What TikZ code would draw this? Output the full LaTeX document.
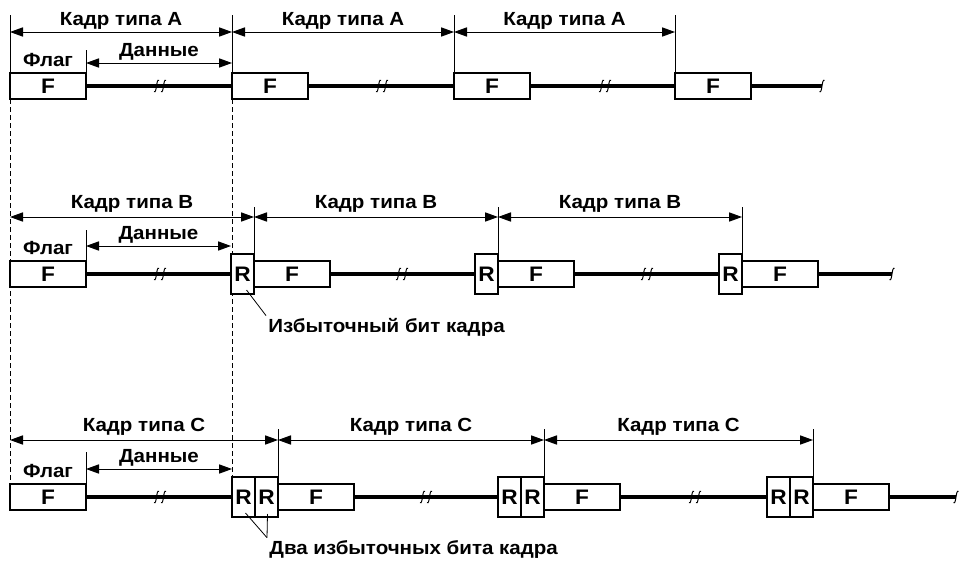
\documentclass[tikz,border=0pt]{standalone}
\usepackage{fontspec}
\setmainfont{Liberation Sans}[FakeStretch=1.08]
\usetikzlibrary{arrows.meta,positioning,backgrounds}

\tikzset{
  fbox/.style={draw,line width=1pt,fill=white,outer sep=0pt,inner sep=0pt,
    minimum width=38pt,minimum height=13pt,font=\bfseries\fontsize{10.5}{12}\selectfont},
  rbox/.style={fbox,minimum width=11.5pt,minimum height=20pt},
  wire/.style={line width=1.6pt},
  dim/.style={{Triangle[length=6.5pt,width=4.6pt]}-{Triangle[length=6.5pt,width=4.6pt]},line width=0.5pt},
  stub/.style={line width=0.4pt},
  guide/.style={line width=0.4pt,dash pattern=on 2.5pt off 1.5pt},
  lead/.style={line width=0.4pt},
  lbl/.style={font=\bfseries\fontsize{9.5}{11}\selectfont,inner sep=1pt},
  gapmark/.pic={
    \foreach \dx in {-3.5,3.5}
      \draw[line width=0.5pt,xshift=\dx*0.5pt] (2.5,-5.5) .. controls (1,-7) and (0.5,-3) .. (0,0)
        .. controls (-0.5,3) and (-1,7) .. (-2.5,5.5);
  },
  endmark/.pic={
    \draw[line width=0.5pt] (2.5,-5.5) .. controls (1,-7) and (0.5,-3) .. (0,0)
      .. controls (-0.5,3) and (-1,7) .. (-2.5,5.5);
  }
}

\begin{document}
\begin{tikzpicture}[x=0.5pt,y=-0.5pt]
\useasboundingbox (0,0) rectangle (959,562);

% frame type A
\node[fbox,anchor=west] (fa1) at (10,86) {F};
\node[fbox,anchor=west] (fa2) at (232,86) {F};
\node[fbox,anchor=west] (fa3) at (454,86) {F};
\node[fbox,anchor=west] (fa4) at (675,86) {F};
\coordinate (ea) at (822,86);
\draw[wire] (fa1) -- (fa2) (fa2) -- (fa3) (fa3) -- (fa4) (fa4) -- (ea);
\pic at (160,86) {gapmark};
\pic at (382,86) {gapmark};
\pic at (605,86) {gapmark};
\pic at (ea) {endmark};

\coordinate (ta) at (0,15);
\coordinate (ya) at (0,32);
\coordinate (tda) at (0,50);
\coordinate (yda) at (0,63);
\draw[stub] (fa1.north west |- ta) -- (fa1.north west);
\draw[stub] (fa2.north west |- ta) -- (fa2.north west);
\draw[stub] (fa3.north west |- ta) -- (fa3.north west);
\draw[stub] (fa4.north west |- ta) -- (fa4.north west);
\draw[stub] (fa1.north east |- tda) -- (fa1.north east);
\draw[dim] (fa1.north west |- ya) -- node[lbl,above] {Кадр типа A} (fa2.north west |- ya);
\draw[dim] (fa2.north west |- ya) -- node[lbl,above] {Кадр типа A} (fa3.north west |- ya);
\draw[dim] (fa3.north west |- ya) -- node[lbl,above] {Кадр типа A} (fa4.north west |- ya);
\draw[dim] (fa1.north east |- yda) -- node[lbl,above] {Данные} (fa2.north west |- yda);
\node[lbl,above=2pt of fa1] (flaga) {Флаг};

% frame type B
\node[fbox,anchor=west] (fb1) at (10,274) {F};
\node[rbox,anchor=west] (rb1) at (231,274) {R};
\node[fbox,right=0pt of rb1] (fb2) {F};
\node[rbox,anchor=west] (rb2) at (475,274) {R};
\node[fbox,right=0pt of rb2] (fb3) {F};
\node[rbox,anchor=west] (rb3) at (719,274) {R};
\node[fbox,right=0pt of rb3] (fb4) {F};
\coordinate (eb) at (892,274);
\draw[wire] (fb1) -- (rb1) (fb2) -- (rb2) (fb3) -- (rb3) (fb4) -- (eb);
\pic at (160,274) {gapmark};
\pic at (402,274) {gapmark};
\pic at (647,274) {gapmark};
\pic at (eb) {endmark};

\coordinate (tb) at (0,207);
\coordinate (yb) at (0,217);
\coordinate (tdb) at (0,230);
\coordinate (ydb) at (0,246);
\draw[stub] (fb2.north west |- tb) -- (fb2.north west);
\draw[stub] (fb3.north west |- tb) -- (fb3.north west);
\draw[stub] (fb4.north west |- tb) -- (fb4.north west);
\draw[stub] (fb1.north east |- tdb) -- (fb1.north east);
\draw[dim] (fb1.north west |- yb) -- node[lbl,above=1pt] {Кадр типа B} (fb2.north west |- yb);
\draw[dim] (fb2.north west |- yb) -- node[lbl,above=1pt] {Кадр типа B} (fb3.north west |- yb);
\draw[dim] (fb3.north west |- yb) -- node[lbl,above=1pt] {Кадр типа B} (fb4.north west |- yb);
\draw[dim] (fb1.north east |- ydb) -- node[lbl,above] {Данные} (rb1.north west |- ydb);
\node[lbl,above=2pt of fb1] (flagb) {Флаг};
\node[lbl,anchor=west] (lblb) at (266,327) {Избыточный бит кадра};
\draw[lead] ([shift={(4,-4)}]rb1.south) -- (lblb.north west);

% frame type C
\node[fbox,anchor=west] (fc1) at (10,497) {F};
\node[rbox,anchor=west] (rc1) at (232,497) {R};
\node[rbox,right=0pt of rc1] (rc2) {R};
\node[fbox,right=0pt of rc2] (fc2) {F};
\node[rbox,anchor=west] (rc3) at (498,497) {R};
\node[rbox,right=0pt of rc3] (rc4) {R};
\node[fbox,right=0pt of rc4] (fc3) {F};
\node[rbox,anchor=west] (rc5) at (767,497) {R};
\node[rbox,right=0pt of rc5] (rc6) {R};
\node[fbox,right=0pt of rc6] (fc4) {F};
\coordinate (ec) at (956,497);
\draw[wire] (fc1) -- (rc1) (fc2) -- (rc3) (fc3) -- (rc5) (fc4) -- (ec);
\pic at (160,497) {gapmark};
\pic at (426,497) {gapmark};
\pic at (695,497) {gapmark};
\pic at (ec) {endmark};

\coordinate (tc) at (0,429);
\coordinate (yc) at (0,440);
\coordinate (tdc) at (0,452);
\coordinate (ydc) at (0,469);
\draw[stub] (fc2.north west |- tc) -- (rc2.north east);
\draw[stub] (fc3.north west |- tc) -- (rc4.north east);
\draw[stub] (fc4.north west |- tc) -- (rc6.north east);
\draw[stub] (fc1.north east |- tdc) -- (fc1.north east);
\draw[dim] (fc1.north west |- yc) -- node[lbl,above=1pt] {Кадр типа C} (fc2.north west |- yc);
\draw[dim] (fc2.north west |- yc) -- node[lbl,above=1pt] {Кадр типа C} (fc3.north west |- yc);
\draw[dim] (fc3.north west |- yc) -- node[lbl,above=1pt] {Кадр типа C} (fc4.north west |- yc);
\draw[dim] (fc1.north east |- ydc) -- node[lbl,above] {Данные} (rc1.north west |- ydc);
\node[lbl,above=2pt of fc1] (flagc) {Флаг};
\node[lbl,anchor=west] (lblc) at (267,549) {Два избыточных бита кадра};
\draw[lead] ([shift={(2,-4)}]rc1.south) -- (lblc.north west);
\draw[lead] ([shift={(1,-3)}]rc2.south) -- (lblc.north west);

% dashed guides
\begin{scope}[on background layer]
\draw[guide] (fa1.south west) -- (fc1.north west);
\draw[guide] (fa2.south west) -- (rc1.north west);
\end{scope}
\end{tikzpicture}
\end{document}
